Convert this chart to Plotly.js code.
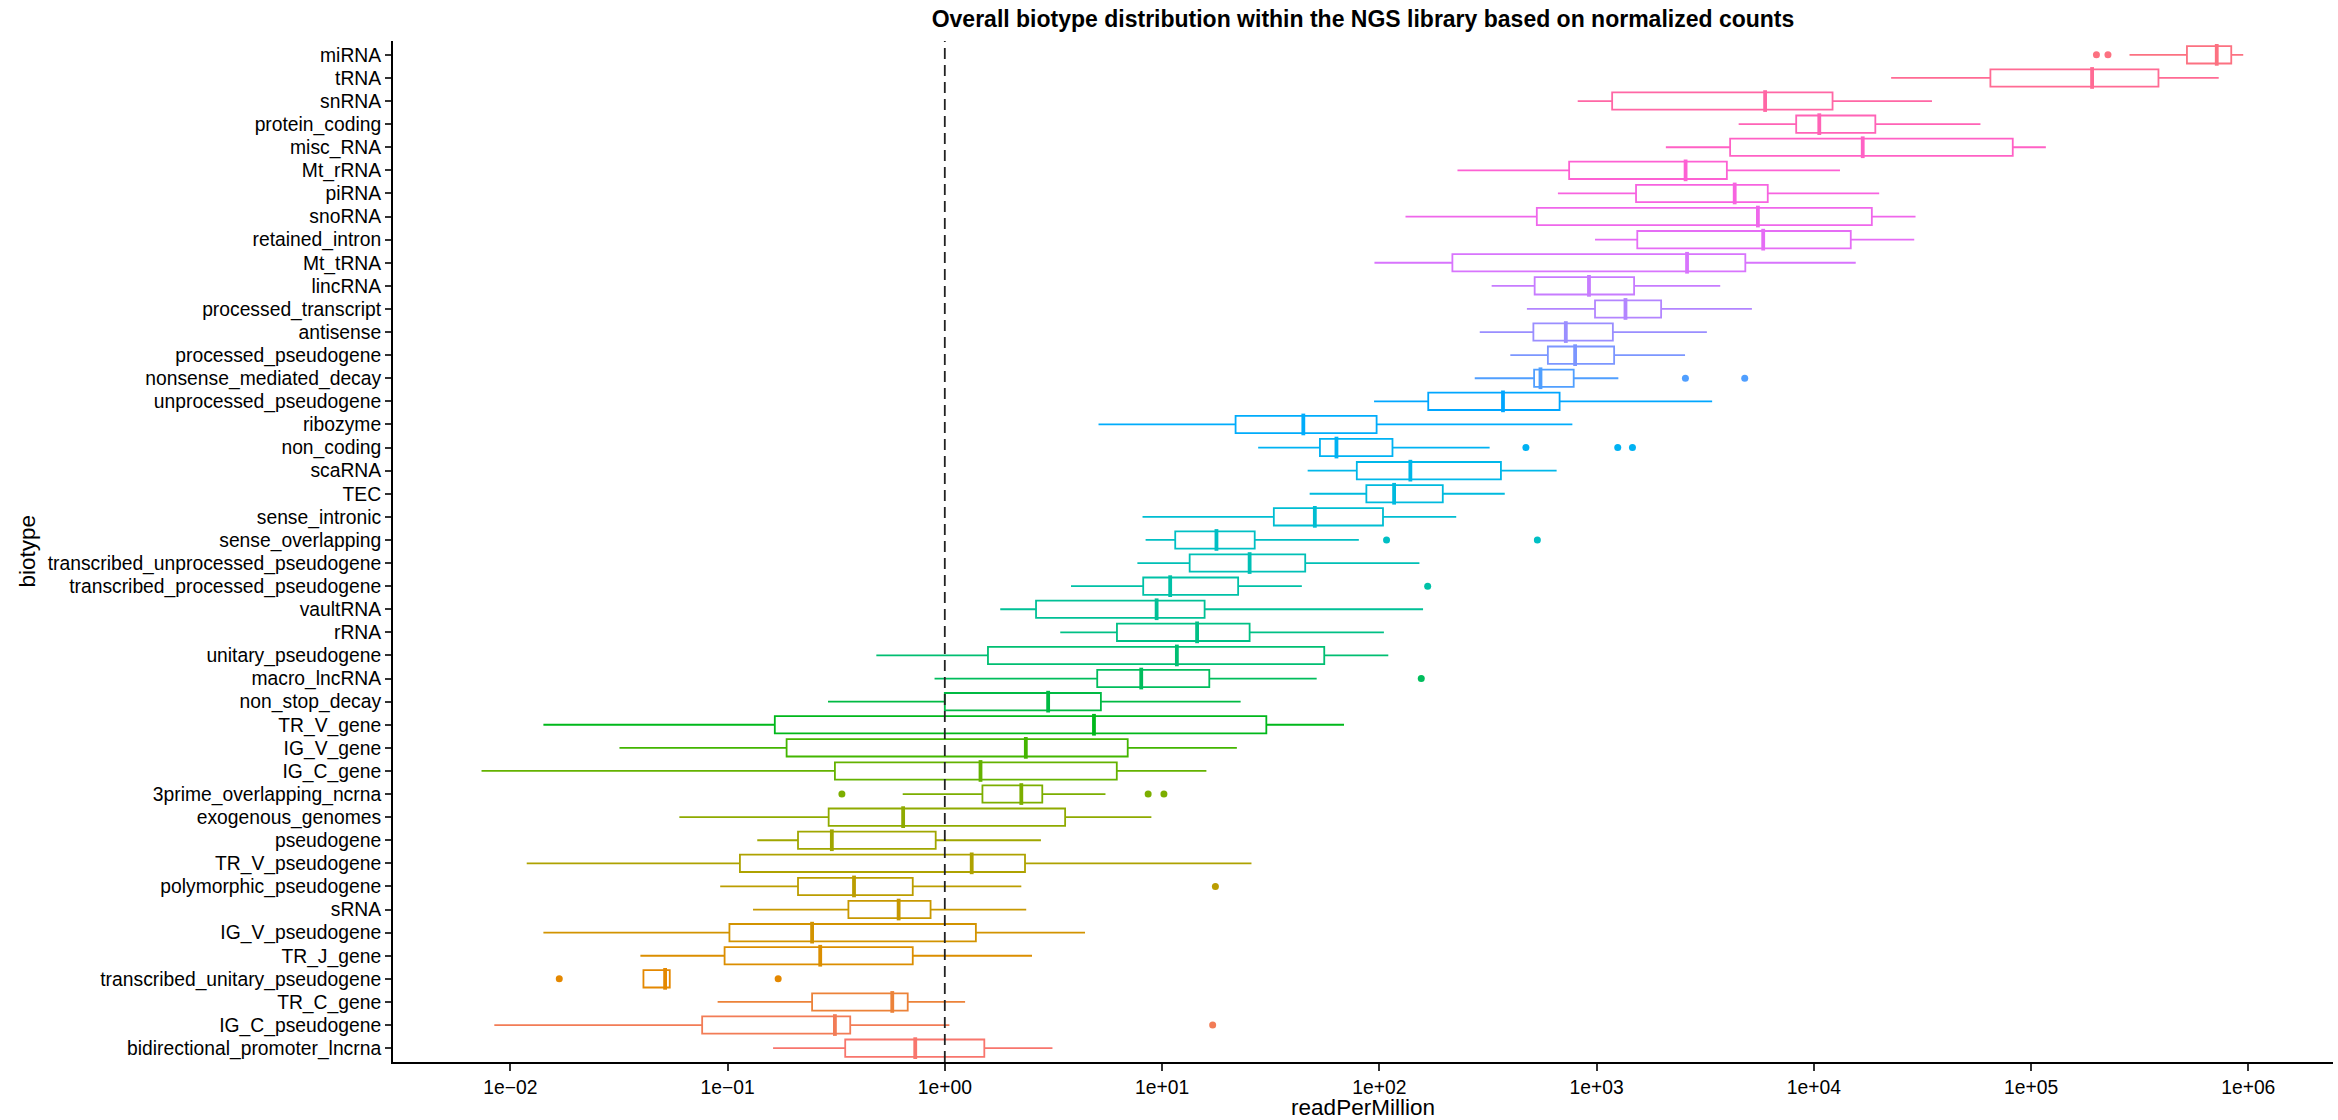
<!DOCTYPE html>
<html><head><meta charset="utf-8">
<script src="https://cdn.plot.ly/plotly-3.0.1.min.js"></script>
<style>html,body{margin:0;padding:0;background:#fff}#chart{width:2338px;height:1120px}</style>
</head><body><div id="chart"></div>
<script>
// Categories, listed top to bottom as displayed
const biotypes = ['miRNA','tRNA','snRNA','protein_coding','misc_RNA','Mt_rRNA','piRNA','snoRNA','retained_intron','Mt_tRNA','lincRNA','processed_transcript','antisense','processed_pseudogene','nonsense_mediated_decay','unprocessed_pseudogene','ribozyme','non_coding','scaRNA','TEC','sense_intronic','sense_overlapping','transcribed_unprocessed_pseudogene','transcribed_processed_pseudogene','vaultRNA','rRNA','unitary_pseudogene','macro_lncRNA','non_stop_decay','TR_V_gene','IG_V_gene','IG_C_gene','3prime_overlapping_ncrna','exogenous_genomes','pseudogene','TR_V_pseudogene','polymorphic_pseudogene','sRNA','IG_V_pseudogene','TR_J_gene','transcribed_unitary_pseudogene','TR_C_gene','IG_C_pseudogene','bidirectional_promoter_lncrna'];

const lowerWhisker = [2.84e5,2.27e4,819,4510,2085,229,664,132,984,95,329,478,290,401,275,94.6,5.1,27.7,46.8,47.8,8.13,8.4,7.7,3.81,1.8,3.4,0.484,0.897,0.29,0.0142,0.0318,0.00737,0.64,0.06,0.137,0.0119,0.0925,0.131,0.0142,0.0397,0.041,0.09,0.00844,0.162];
const q1Values = [5.22e5,6.5e4,1180,8300,4120,748,1520,531,1540,217,519,984,512,597,516,168,21.8,53.3,78.8,87.2,32.7,11.5,13.4,8.19,2.63,6.2,1.58,5.03,1.0,0.165,0.187,0.312,1.49,0.292,0.211,0.114,0.211,0.36,0.102,0.0969,0.041,0.245,0.0764,0.348];
const medianValues = [7.16e5,1.91e5,5970,10600,16800,2570,4325,5530,5850,2610,923,1359,722,797,552,371,44.7,63.5,139,117,50.5,17.8,25.3,10.9,9.44,14.5,11.7,8.02,2.99,4.86,2.36,1.46,2.25,0.643,0.302,1.33,0.382,0.613,0.245,0.267,0.0516,0.573,0.312,0.731];
const q3Values = [8.35e5,3.86e5,12200,19200,82400,3980,6140,18500,14800,4840,1489,1983,1189,1205,785,676,97.2,115,363,196,104,26.7,45.6,22.4,15.7,25.3,55.8,16.5,5.23,30.2,6.95,6.19,2.81,3.58,0.908,2.34,0.712,0.86,1.39,0.712,0.0542,0.675,0.367,1.52];
const upperWhisker = [9.48e5,7.31e5,35000,58500,117000,13200,20000,29400,29000,15600,3710,5190,3220,2555,1260,3405,774,322,655,378,226,80.5,153,44,159,105,110,51.5,23.0,68.8,22.1,16.0,5.49,8.93,2.77,25.8,2.25,2.37,4.42,2.52,0.0542,1.24,1.05,3.13];

const outlierBiotype = ['miRNA','miRNA','nonsense_mediated_decay','nonsense_mediated_decay','non_coding','non_coding','non_coding','sense_overlapping','sense_overlapping','transcribed_processed_pseudogene','macro_lncRNA','3prime_overlapping_ncrna','3prime_overlapping_ncrna','3prime_overlapping_ncrna','polymorphic_pseudogene','transcribed_unitary_pseudogene','transcribed_unitary_pseudogene','IG_C_pseudogene'];
const outlierValue = [2.0e5,2.26e5,2565,4810,473,1252,1463,108,534,167,156,0.336,8.63,10.2,17.6,0.0168,0.171,17.1];

const referenceValue = 1;
const tickValues = [1e-2,1e-1,1e0,1e1,1e2,1e3,1e4,1e5,1e6];
const tickLabels = ['1e\u221202','1e\u221201','1e+00','1e+01','1e+02','1e+03','1e+04','1e+05','1e+06'];

// ggplot2-style hue palette (HCL, c=100, l=65)
function hcl(h, c, l) {
  const WX = 95.047, WY = 100.0, WZ = 108.883;
  const wu = 4*WX/(WX+15*WY+3*WZ), wv = 9*WY/(WX+15*WY+3*WZ);
  const hr = h*Math.PI/180;
  const U = c*Math.cos(hr), V = c*Math.sin(hr);
  const Y = WY * (l > 7.999592 ? Math.pow((l+16)/116, 3) : l/903.3);
  const u = U/(13*l) + wu, v = V/(13*l) + wv;
  const X = 9.0*Y*u/(4*v);
  const Z = -X/3 - 5*Y + 3*Y/v;
  const g = t => t > 0.00304 ? 1.055*Math.pow(t, 1/2.4) - 0.055 : 12.92*t;
  const x = X/WY, y = Y/WY, z = Z/WY;
  let r = g(3.240479*x - 1.537150*y - 0.498535*z);
  let gg = g(-0.969256*x + 1.875992*y + 0.041556*z);
  let b = g(0.055648*x - 0.204043*y + 1.057311*z);
  const to = t => { t = Math.max(0, Math.min(1, t)); const s = Math.round(t*255).toString(16); return s.length < 2 ? '0'+s : s; };
  return '#' + to(r) + to(gg) + to(b);
}
const n = biotypes.length;
const colorOf = {};
biotypes.forEach((b, i) => { const level = n - 1 - i; colorOf[b] = hcl(15 + level*360/n, 100, 65); });

const traces = [];
biotypes.forEach((b, i) => {
  traces.push({
    type: 'box', orientation: 'h', y: [b],
    q1: [q1Values[i]], median: [medianValues[i]], q3: [q3Values[i]],
    lowerfence: [lowerWhisker[i]], upperfence: [upperWhisker[i]],
    width: 0.75, whiskerwidth: 0, fillcolor: 'white',
    line: {color: colorOf[b], width: 1.8},
    boxpoints: false, hoverinfo: 'skip', showlegend: false
  });
});
// thick median bars
traces.push({
  type: 'scatter', mode: 'markers', x: medianValues, y: biotypes,
  marker: {symbol: 'line-ns', size: 15.5, line: {color: biotypes.map(b => colorOf[b]), width: 3.8}},
  hoverinfo: 'skip', showlegend: false
});
// outliers
traces.push({
  type: 'scatter', mode: 'markers', x: outlierValue, y: outlierBiotype,
  marker: {symbol: 'circle', size: 7, color: outlierBiotype.map(b => colorOf[b])},
  hoverinfo: 'skip', showlegend: false
});

const layout = {
  width: 2338, height: 1120,
  margin: {l: 393, r: 5, t: 41, b: 58},
  paper_bgcolor: 'white', plot_bgcolor: 'white',
  font: {family: '"Liberation Sans", Arial, sans-serif', color: 'black', size: 19},
  title: {text: 'Overall biotype distribution within the NGS library based on normalized counts',
          font: {size: 23, weight: 'bold', color: 'black'},
          x: 0.5, xref: 'paper', xanchor: 'center', y: 1 - 18.5/1120, yref: 'container', yanchor: 'middle'},
  boxmode: 'overlay',
  showlegend: false,
  xaxis: {
    type: 'log', range: [-2.54, 6.39],
    tickmode: 'array', tickvals: tickValues, ticktext: tickLabels,
    ticks: 'outside', ticklen: 7, tickwidth: 2, tickcolor: '#333',
    showline: true, linecolor: 'black', linewidth: 2,
    showgrid: false, zeroline: false,
    tickfont: {size: 19.3, color: 'black'},
    title: {text: 'readPerMillion', font: {size: 22.5, color: 'black'}, standoff: 4}
  },
  yaxis: {
    type: 'category', categoryorder: 'array', categoryarray: biotypes.slice().reverse(),
    range: [-0.6, n - 0.4],
    ticks: 'outside', ticklen: 6, tickwidth: 2, tickcolor: '#333',
    showline: true, linecolor: 'black', linewidth: 2,
    showgrid: false, zeroline: false,
    tickfont: {size: 19.3, color: 'black'}
  },
  annotations: [{text: 'biotype', textangle: -90, xref: 'paper', yref: 'paper',
                 x: (27 - 393) / 1940, y: 0.5, xanchor: 'center', yanchor: 'middle',
                 showarrow: false, font: {size: 22.5, color: 'black'}}],
  shapes: [{type: 'line', xref: 'x', yref: 'paper', x0: referenceValue, x1: referenceValue, y0: 0, y1: 1,
            line: {color: '#222', width: 1.8, dash: '11px,6px'}, layer: 'above'}]
};

Plotly.newPlot('chart', traces, layout, {staticPlot: true, displayModeBar: false});
</script>
</body></html>
